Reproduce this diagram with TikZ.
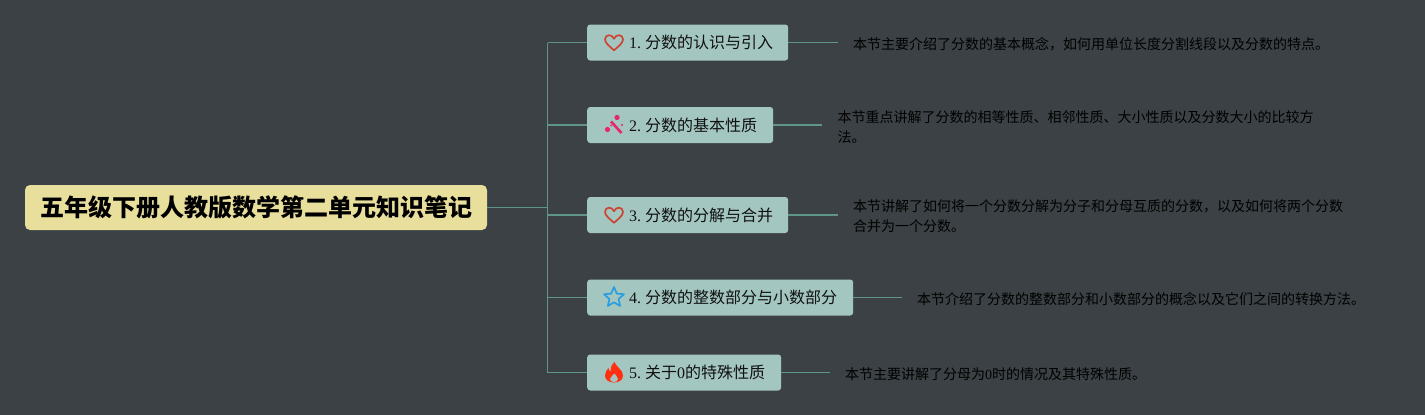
\documentclass[tikz,border=0pt]{standalone}
\usepackage{fontspec}
\setmainfont{Noto Sans CJK SC}
\newfontfamily\latinfont{Liberation Serif}
\definecolor{bgcol}{HTML}{3B4144}
\definecolor{linecol}{HTML}{5F9489}
\definecolor{boxcol}{HTML}{A3C6C0}
\definecolor{rootcol}{HTML}{E9DF9C}
\definecolor{txtcol}{HTML}{111111}
\definecolor{heartcol}{HTML}{CC4433}
\definecolor{wandcol}{HTML}{E6266E}
\definecolor{starcol}{HTML}{2A9FE0}
\definecolor{firecol}{HTML}{FF2F0F}
\newcommand{\sectext}[2]{\hspace*{42pt}\raisebox{-1.5pt}{{\latinfont #1}\hspace{4pt}#2}}
\begin{document}
\begin{tikzpicture}[x=1pt, y=-1pt,
  root/.style = {shape=rectangle, rounded corners=5pt, fill=rootcol, text=black,
    minimum width=462pt, minimum height=45pt, inner sep=0pt,
    font=\fontsize{24}{28}\selectfont\bfseries},
  section/.style = {shape=rectangle, rounded corners=3pt, fill=boxcol, text=txtcol,
    anchor=west, minimum height=36pt, inner ysep=0pt, inner xsep=0pt, align=left,
    font=\fontsize{16}{20}\selectfont},
  note/.style = {anchor=west, inner sep=0pt, align=left, text=black,
    font=\fontsize{14}{20}\selectfont},
  link/.style = {draw=linecol, line width=1.3pt},
  iconheart/.pic = {
    \draw[draw=heartcol, line width=1.7pt, line join=round]
      (0,7.8) .. controls (-4,4.2) and (-9,0.5) .. (-9,-3)
      .. controls (-9,-8.3) and (-2,-8.8) .. (0,-3.8)
      .. controls (2,-8.8) and (9,-8.3) .. (9,-3)
      .. controls (9,0.5) and (4,4.2) .. (0,7.8) -- cycle;
  },
  iconstar/.pic = {
    \draw[draw=starcol, line width=1.7pt, line join=round]
      (-90:10.5) -- (-54:4.8) -- (-18:10.5) -- (18:4.8) -- (54:10.5) -- (90:4.8)
      -- (126:10.5) -- (162:4.8) -- (198:10.5) -- (234:4.8) -- cycle;
  },
  iconwand/.pic = {
    \draw[draw=wandcol, line width=2.6pt] (-3,-3.5) -- (7.5,8);
    \fill[wandcol] (-6.5,4.5) circle (2.6pt);
    \fill[wandcol] (3,-7.5) circle (2.6pt);
    \fill[wandcol] (8,0) circle (1.2pt);
    \fill[wandcol] (-3,0.5) circle (1pt);
  },
  iconfire/.pic = {
    \fill[firecol] (0.5,-10.5) .. controls (1.5,-6) and (9,-3) .. (9,3)
      .. controls (9,7.5) and (5,10) .. (0,10)
      .. controls (-5,10) and (-9,7.5) .. (-9,3)
      .. controls (-9,-0.5) and (-7,-2.5) .. (-5.5,-4.5)
      .. controls (-5.2,-2.5) and (-4.5,-1.5) .. (-3.5,-1)
      .. controls (-3.5,-5) and (-2,-8.5) .. (0.5,-10.5) -- cycle;
    \fill[boxcol] (0.5,1) .. controls (1,3) and (4,4) .. (4,6.5)
      .. controls (4,8.5) and (2,9.5) .. (0,9.5)
      .. controls (-2,9.5) and (-4,8.5) .. (-4,6.5)
      .. controls (-4,4) and (-0.5,3) .. (0.5,1) -- cycle;
  }]
  \fill[bgcol] (0,0) rectangle (1425,415);
  \useasboundingbox (0,0) rectangle (1425,415);

  \node[root] (main) at (256,207.5) {\raisebox{-1pt}{\hspace{1pt}五年级下册人教版数学第二单元知识笔记}};

  \coordinate (trunktop) at (547.5,42.5);
  \coordinate (trunkbot) at (547.5,372.5);

  \node[section, minimum width=201pt, text width=201pt] (sec1) at (587,42.5) {\sectext{1.}{分数的认识与引入}};
  \node[section, minimum width=186pt, text width=186pt] (sec2) at (587,125) {\sectext{2.}{分数的基本性质}};
  \node[section, minimum width=201pt, text width=201pt] (sec3) at (587,215) {\sectext{3.}{分数的分解与合并}};
  \node[section, minimum width=266pt, text width=266pt] (sec4) at (587,297.5) {\sectext{4.}{分数的整数部分与小数部分}};
  \node[section, minimum width=194pt, text width=194pt] (sec5) at (587,372.5) {\sectext{5.}{关于{\latinfont 0}的特殊性质}};

  \pic at ([xshift=27pt]sec1.west) {iconheart};
  \pic at ([xshift=27pt]sec2.west) {iconwand};
  \pic at ([xshift=27pt]sec3.west) {iconheart};
  \pic at ([xshift=27pt]sec4.west) {iconstar};
  \pic at ([xshift=27pt]sec5.west) {iconfire};

  \coordinate (end1) at (838,42.5);
  \coordinate (end2) at (822,125);
  \coordinate (end3) at (838,215);
  \coordinate (end4) at (902,297.5);
  \coordinate (end5) at (830,372.5);

  \node[note] (note1) at (853,44.5) {本节主要介绍了分数的基本概念，如何用单位长度分割线段以及分数的特点。};
  \node[note] (note2) at (837.5,127.5) {本节重点讲解了分数的相等性质、相邻性质、大小性质以及分数大小的比较方\\法。};
  \node[note] (note3) at (853,216.5) {本节讲解了如何将一个分数分解为分子和分母互质的分数，以及如何将两个分数\\合并为一个分数。};
  \node[note] (note4) at (917,299.5) {本节介绍了分数的整数部分和小数部分的概念以及它们之间的转换方法。};
  \node[note] (note5) at (845,374.5) {本节主要讲解了分母为{\latinfont 0}时的情况及其特殊性质。};

  \draw[link] (trunktop) -- (trunkbot);
  \draw[link] (main.east) -- (main.east -| trunktop);
  \foreach \i in {1,...,5} {
    \draw[link] (sec\i.west -| trunktop) -- (sec\i.west);
    \draw[link] (sec\i.east) -- (end\i);
  }
\end{tikzpicture}
\end{document}
